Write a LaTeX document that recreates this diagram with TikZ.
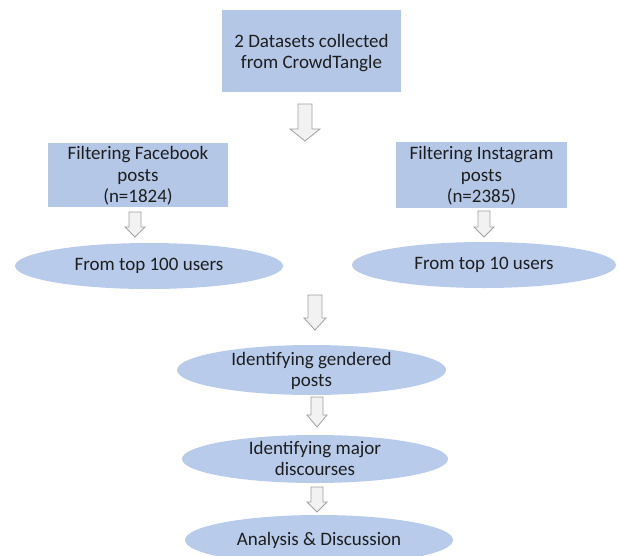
\documentclass[tikz,border=0pt]{standalone}
\usepackage{fontspec}
\setmainfont{Carlito}
\usetikzlibrary{shapes.geometric}
\definecolor{boxblue}{HTML}{B4C7E7}
\definecolor{ellblue}{HTML}{B8CBEA}
\definecolor{arrfill}{HTML}{F2F2F2}
\definecolor{arrline}{HTML}{A0A0A0}
\definecolor{txt}{HTML}{1E1E1E}
\newcommand\blockarr[6]{% x, top, bottom, half shaft, half head, head height
  \draw[arrstyle] (#1-#4,#2) -- (#1+#4,#2) -- (#1+#4,#3-#6) -- (#1+#5,#3-#6) -- (#1,#3)
    -- (#1-#5,#3-#6) -- (#1-#4,#3-#6) -- cycle;}
\begin{document}
\begin{tikzpicture}[x=1pt,y=-1pt,
  every node/.style={font=\fontsize{19}{21.5}\selectfont, text=txt, align=center},
  rectbox/.style={rectangle, fill=boxblue, inner sep=0pt},
  ellbox/.style={ellipse, fill=ellblue, inner sep=0pt},
  arrstyle/.style={fill=arrfill, draw=arrline, line width=0.8pt, line join=miter}]
\useasboundingbox (0,0) rectangle (619,555);
\clip (0,0) rectangle (619,555);
\node[rectbox, minimum width=179pt, minimum height=82pt] (data) at (311.5,51) {};
\node (datat) at (311.5,53) {2 Datasets collected\\from CrowdTangle};
\node[rectbox, minimum width=180pt, minimum height=64pt] (fb) at (138,175) {};
\node (fbt) at (138,176) {Filtering Facebook\\posts\\(n=1824)};
\node[rectbox, minimum width=171pt, minimum height=66pt] (ig) at (481.5,175) {};
\node (igt) at (481.5,176) {Filtering Instagram\\posts\\(n=2385)};
\node[ellbox, minimum width=268pt, minimum height=46pt] (fbu) at (149,266) {From top 100 users};
\node[ellbox, minimum width=264pt, minimum height=46pt] (igu) at (484,265) {From top 10 users};
\node[ellbox, minimum width=269pt, minimum height=50pt] (gend) at (311.5,370) {};
\node (gendt) at (311.5,371) {Identifying gendered\\posts};
\node[ellbox, minimum width=266pt, minimum height=48pt] (disc) at (315,459) {};
\node (disct) at (315,458.5) {Identifying major\\discourses};
\node[ellbox, minimum width=268pt, minimum height=50pt] (anal) at (319,540) {Analysis \& Discussion};
\blockarr{305}{104}{141}{7}{15}{12}
\blockarr{135}{212}{237}{6}{10}{10}
\blockarr{484}{211}{237}{6}{10}{10}
\blockarr{315}{295}{330}{7}{11}{12}
\blockarr{317}{397}{427}{6}{10}{12}
\blockarr{317}{487}{512}{6}{10}{10}
\end{tikzpicture}
\end{document}
